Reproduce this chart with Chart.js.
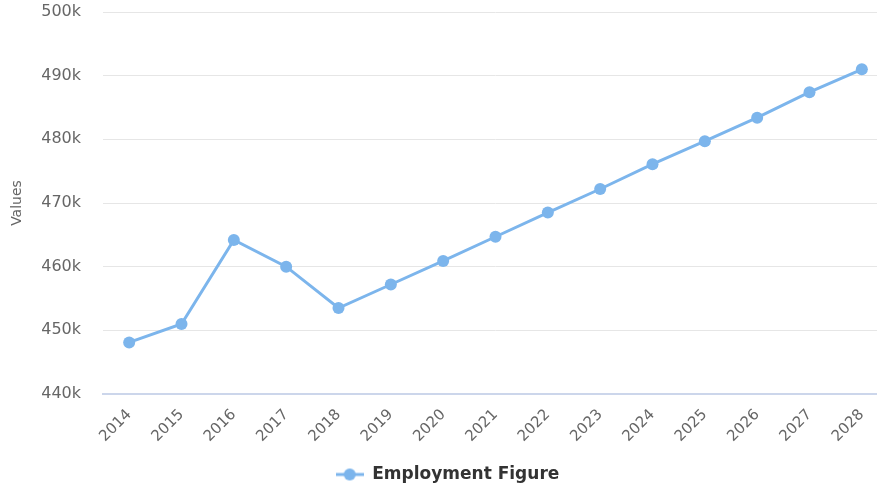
<!DOCTYPE html>
<html lang="en">
<head>
    <meta charset="UTF-8">
    <title>Employment Figure</title>
    <script src="https://cdn.jsdelivr.net/npm/chart.js"></script>
    <style>
        html, body {
            margin: 0;
            padding: 0;
            overflow: hidden;
            background: #fff;
        }
        .chart-container {
            width: 895px;
            height: 493px;
        }
    </style>
</head>
<body>
    <div class="chart-container">
        <canvas id="lineChart"></canvas>
    </div>

    <script>
        // Data
        const years = ['2014', '2015', '2016', '2017', '2018', '2019', '2020', '2021',
                       '2022', '2023', '2024', '2025', '2026', '2027', '2028'];
        const employment = [448100, 451000, 464200, 460000, 453500, 457200, 460900, 464700,
                            468500, 472200, 476100, 479700, 483400, 487400, 491000];
        const seriesName = 'Employment Figure';
        const axisTitle = 'Values';

        const lineColor = '#7cb5ec';

        // legend symbol: short line with a dot, like the reference
        const legendIcon = document.createElement('canvas');
        legendIcon.width = 28;
        legendIcon.height = 14;
        const g = legendIcon.getContext('2d');
        g.strokeStyle = lineColor;
        g.lineWidth = 3;
        g.beginPath();
        g.moveTo(0, 7);
        g.lineTo(28, 7);
        g.stroke();
        g.fillStyle = lineColor;
        g.beginPath();
        g.arc(14, 7, 6, 0, Math.PI * 2);
        g.fill();

        new Chart(document.getElementById('lineChart'), {
            type: 'line',
            data: {
                labels: years,
                datasets: [{
                    label: seriesName,
                    data: employment,
                    borderColor: lineColor,
                    backgroundColor: lineColor,
                    borderWidth: 3,
                    pointRadius: 6,
                    pointHoverRadius: 7,
                    pointBorderWidth: 0,
                    pointStyle: 'circle',
                    tension: 0
                }]
            },
            options: {
                responsive: true,
                maintainAspectRatio: false,
                animation: false,
                layout: {
                    padding: { top: 12, right: 0, left: 0, bottom: 0 }
                },
                scales: {
                    x: {
                        offset: true,
                        grid: { display: false },
                        border: { display: true, color: '#ccd6eb', width: 2 },
                        ticks: {
                            color: '#666',
                            font: { family: 'DejaVu Sans', size: 15 },
                            maxRotation: 45,
                            minRotation: 45,
                            padding: 4
                        },
                        afterFit: (scale) => { scale.height = 71; }
                    },
                    y: {
                        min: 440000,
                        max: 500000,
                        border: { display: false },
                        grid: { color: '#e6e6e6', lineWidth: 1, drawTicks: false },
                        ticks: {
                            stepSize: 10000,
                            color: '#666',
                            padding: 22,
                            font: { family: 'DejaVu Sans', size: 16 },
                            callback: (v) => (v / 1000) + 'k'
                        },
                        title: {
                            display: true,
                            text: axisTitle,
                            color: '#666',
                            font: { family: 'DejaVu Sans', size: 14 },
                            padding: { top: 9, bottom: 0 }
                        },
                        afterFit: (scale) => {
                            scale.width = 103;
                            // the tick labels may overflow the plot, no extra room above/below
                            scale.paddingTop = 0;
                            scale.paddingBottom = 0;
                        }
                    }
                },
                plugins: {
                    legend: {
                        display: true,
                        position: 'bottom',
                        labels: {
                            usePointStyle: true,
                            pointStyle: legendIcon,
                            pointStyleWidth: 28,
                            color: '#333',
                            padding: 1,
                            font: { family: 'DejaVu Sans', size: 17, weight: 'bold' }
                        }
                    },
                    tooltip: { enabled: false }
                }
            }
        });
    </script>
</body>
</html>
